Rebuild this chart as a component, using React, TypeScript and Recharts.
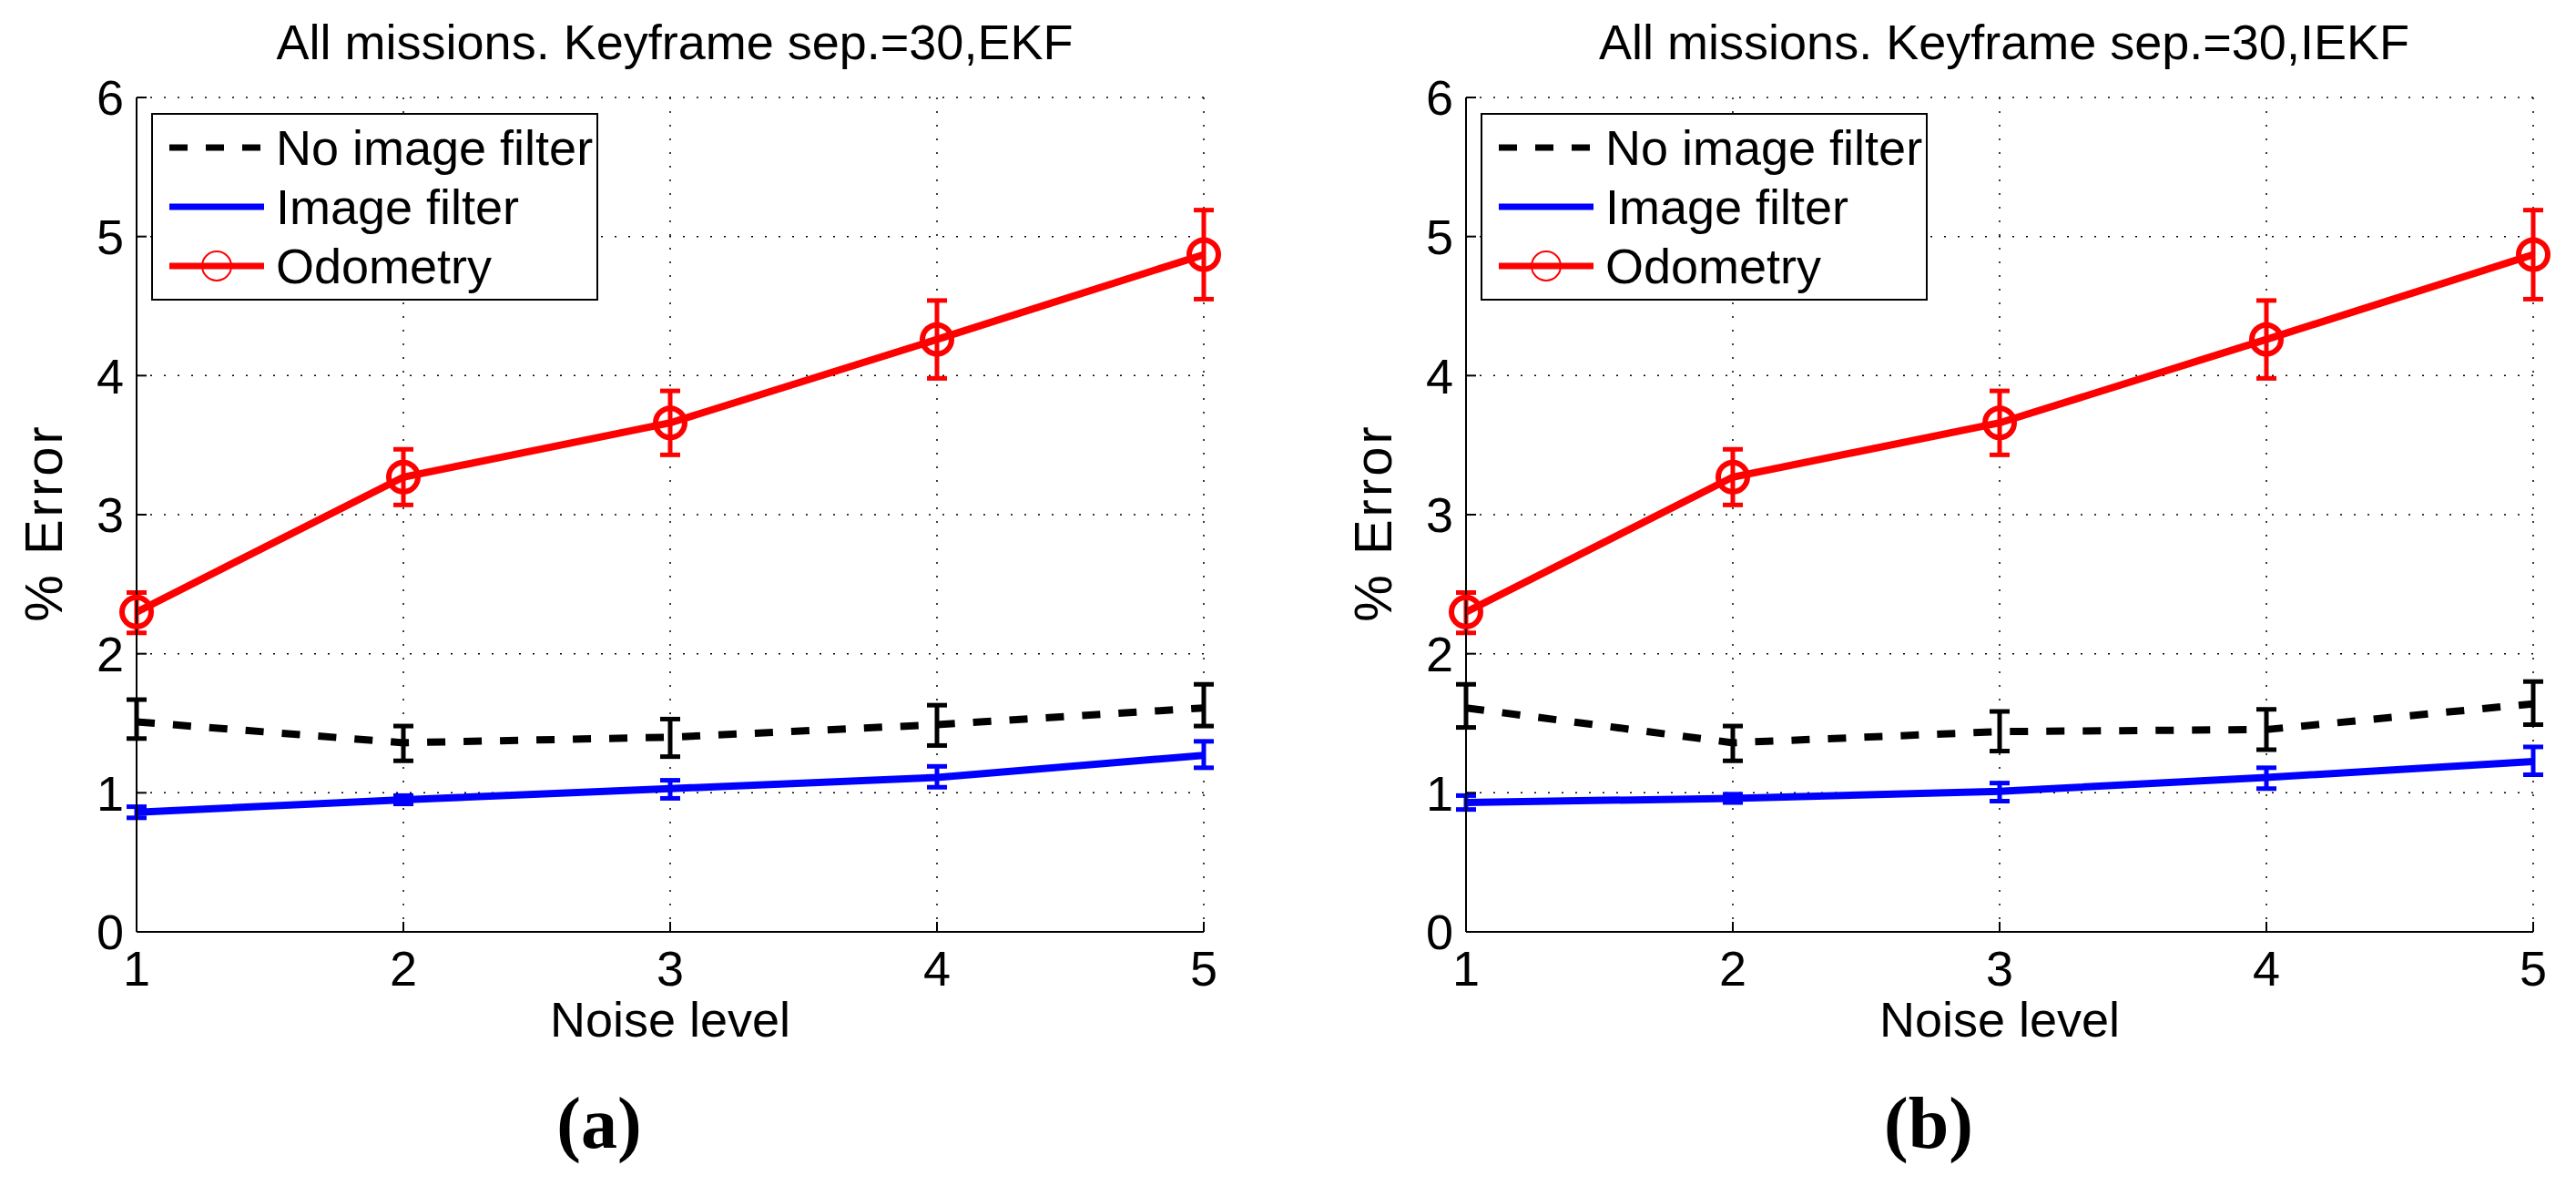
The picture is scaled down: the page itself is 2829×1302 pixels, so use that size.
import {
  LineChart,
  Line,
  XAxis,
  YAxis,
  CartesianGrid,
  ErrorBar,
  Legend,
} from "recharts";

const FONT = '"Liberation Sans", Arial, Helvetica, sans-serif';

const noiseLevels = [1, 2, 3, 4, 5];
const xTicks = [1, 2, 3, 4, 5];
const yTicks = [0, 1, 2, 3, 4, 5, 6];

// (a) EKF — means and error-bar ends
const ekfNoFilter = [1.51, 1.36, 1.4, 1.49, 1.61];
const ekfNoFilterLow = [1.39, 1.23, 1.26, 1.34, 1.48];
const ekfNoFilterHigh = [1.67, 1.48, 1.53, 1.63, 1.78];
const ekfImage = [0.86, 0.95, 1.03, 1.11, 1.27];
const ekfImageLow = [0.82, 0.92, 0.96, 1.04, 1.18];
const ekfImageHigh = [0.9, 0.98, 1.09, 1.19, 1.37];
const ekfOdometry = [2.3, 3.27, 3.66, 4.26, 4.87];
const ekfOdometryLow = [2.15, 3.07, 3.43, 3.98, 4.55];
const ekfOdometryHigh = [2.44, 3.47, 3.89, 4.54, 5.19];

// (b) IEKF
const iekfNoFilter = [1.61, 1.36, 1.44, 1.455, 1.64];
const iekfNoFilterLow = [1.47, 1.23, 1.3, 1.31, 1.49];
const iekfNoFilterHigh = [1.78, 1.48, 1.585, 1.6, 1.8];
const iekfImage = [0.93, 0.96, 1.01, 1.11, 1.225];
const iekfImageLow = [0.88, 0.93, 0.94, 1.03, 1.13];
const iekfImageHigh = [0.98, 0.99, 1.07, 1.18, 1.33];
const iekfOdometry = [2.3, 3.27, 3.66, 4.26, 4.87];
const iekfOdometryLow = [2.15, 3.07, 3.43, 3.98, 4.55];
const iekfOdometryHigh = [2.44, 3.47, 3.89, 4.54, 5.19];

const SERIES = [
  { key: "noFilter", name: "No image filter", color: "#000000", dash: "20 20", circle: false },
  { key: "image", name: "Image filter", color: "#0000ff", dash: undefined, circle: false },
  { key: "odometry", name: "Odometry", color: "#ff0000", dash: undefined, circle: true },
];

function buildRows(
  noF: number[], noFLo: number[], noFHi: number[],
  img: number[], imgLo: number[], imgHi: number[],
  odo: number[], odoLo: number[], odoHi: number[]
) {
  return noiseLevels.map((n, i) => ({
    noise: n,
    noFilter: noF[i],
    noFilterErr: [noF[i] - noFLo[i], noFHi[i] - noF[i]],
    image: img[i],
    imageErr: [img[i] - imgLo[i], imgHi[i] - img[i]],
    odometry: odo[i],
    odometryErr: [odo[i] - odoLo[i], odoHi[i] - odo[i]],
  }));
}

const ekfRows = buildRows(
  ekfNoFilter, ekfNoFilterLow, ekfNoFilterHigh,
  ekfImage, ekfImageLow, ekfImageHigh,
  ekfOdometry, ekfOdometryLow, ekfOdometryHigh
);
const iekfRows = buildRows(
  iekfNoFilter, iekfNoFilterLow, iekfNoFilterHigh,
  iekfImage, iekfImageLow, iekfImageHigh,
  iekfOdometry, iekfOdometryLow, iekfOdometryHigh
);

const seriesIndex = (key: string) => SERIES.findIndex((s) => s.key === key);

function LegendBox({ payload }: { payload?: any[] }) {
  // keep the plotting order (Recharts sorts legend items by name)
  const rows = [...(payload ?? [])].sort(
    (a, b) => seriesIndex(a.dataKey) - seriesIndex(b.dataKey)
  );
  return (
    <div
      style={{
        width: 491,
        height: 206,
        boxSizing: "border-box",
        border: "2px solid #000",
        background: "#fff",
        position: "relative",
      }}
    >
      <svg width={487} height={202} style={{ position: "absolute", left: 0, top: 0 }}>
        {rows.map((entry, i) => {
          const s = SERIES.find((d) => d.key === entry.dataKey) ?? SERIES[i];
          const cy = 36 + i * 65;
          return (
            <g key={s.key}>
              <line
                x1={18}
                x2={122}
                y1={cy}
                y2={cy}
                stroke={s.color}
                strokeWidth={7}
                strokeDasharray={s.dash}
              />
              {s.circle && (
                <circle cx={70} cy={cy} r={16} fill="none" stroke={s.color} strokeWidth={2} />
              )}
              <text x={135} y={cy + 19} fontSize={54} fontFamily={FONT} fill="#000">
                {entry.value}
              </text>
            </g>
          );
        })}
      </svg>
    </div>
  );
}

function YTitle({ viewBox }: { viewBox?: any }) {
  if (!viewBox) return null;
  const x = viewBox.x - 22;
  const y = viewBox.y + viewBox.height / 2 + 9;
  return (
    <text
      x={x}
      y={y}
      transform={`rotate(-90 ${x} ${y})`}
      textAnchor="middle"
      fontSize={58}
      letterSpacing={3}
      fontFamily={FONT}
      fill="#000"
    >
      % Error
    </text>
  );
}

function Panel({
  left,
  title,
  tag,
  rows,
}: {
  left: number;
  title: string;
  tag: string;
  rows: any[];
}) {
  const tickStyle = { fontSize: 54, fill: "#000", fontFamily: FONT };
  return (
    <div style={{ position: "absolute", left, top: 0, width: 1415, height: 1302 }}>
      <div
        style={{
          position: "absolute",
          left: 741,
          top: 19,
          transform: "translateX(-50%)",
          whiteSpace: "nowrap",
          fontFamily: FONT,
          fontSize: 54,
          lineHeight: "54px",
          color: "#000",
        }}
      >
        {title}
      </div>

      <LineChart
        width={1415}
        height={1302}
        data={rows}
        margin={{ top: 107, right: 93, bottom: 219, left: 90 }}
        style={{ fontFamily: FONT }}
      >
        <CartesianGrid stroke="#000" strokeWidth={1.5} strokeDasharray="2 13" />

        <XAxis
          dataKey="noise"
          type="number"
          domain={[1, 5]}
          ticks={xTicks}
          allowDataOverflow
          height={60}
          tick={tickStyle}
          tickSize={-11}
          tickMargin={32}
          tickLine={{ stroke: "#000", strokeWidth: 2 }}
          axisLine={{ stroke: "#000", strokeWidth: 2 }}
          label={{
            value: "Noise level",
            position: "bottom",
            offset: 17,
            fill: "#000",
            fontSize: 54,
            fontFamily: FONT,
          }}
        />
        <XAxis
          xAxisId="top"
          orientation="top"
          dataKey="noise"
          type="number"
          domain={[1, 5]}
          ticks={xTicks}
          height={0}
          tick={false}
          tickSize={-11}
          tickLine={{ stroke: "#000", strokeWidth: 2 }}
          axisLine={{ stroke: "#000", strokeWidth: 2 }}
        />
        <YAxis
          type="number"
          domain={[0, 6]}
          ticks={yTicks}
          width={60}
          tick={tickStyle}
          tickSize={-11}
          tickMargin={25}
          tickLine={{ stroke: "#000", strokeWidth: 2 }}
          axisLine={{ stroke: "#000", strokeWidth: 2 }}
          label={<YTitle />}
        />
        <YAxis
          yAxisId="right"
          orientation="right"
          type="number"
          domain={[0, 6]}
          ticks={yTicks}
          width={0}
          tick={false}
          tickSize={-11}
          tickLine={{ stroke: "#000", strokeWidth: 2 }}
          axisLine={{ stroke: "#000", strokeWidth: 2 }}
        />

        <Legend
          layout="vertical"
          align="center"
          verticalAlign="middle"
          wrapperStyle={{ left: 166, top: 124, width: 491, height: 206 }}
          content={<LegendBox />}
        />

        {SERIES.map((s) => (
          <Line
            key={s.key}
            dataKey={s.key}
            name={s.name}
            type="linear"
            stroke={s.color}
            strokeWidth={8}
            strokeDasharray={s.dash}
            dot={
              s.circle
                ? { r: 16, stroke: s.color, strokeWidth: 6, fill: "none", clipDot: false }
                : false
            }
            activeDot={false}
            isAnimationActive={false}
          >
            <ErrorBar
              dataKey={`${s.key}Err`}
              stroke={s.color}
              strokeWidth={5}
              width={11}
              direction="y"
            />
          </Line>
        ))}
      </LineChart>

      <div
        style={{
          position: "absolute",
          left: 658,
          top: 1193,
          transform: "translateX(-50%)",
          whiteSpace: "nowrap",
          fontFamily: '"Liberation Serif", "Times New Roman", serif',
          fontWeight: "bold",
          fontSize: 80,
          lineHeight: "80px",
          color: "#000",
        }}
      >
        {tag}
      </div>
    </div>
  );
}

export default function App() {
  return (
    <div
      style={{
        position: "absolute",
        left: 0,
        top: 0,
        width: 2829,
        height: 1302,
        background: "#fff",
        overflow: "hidden",
      }}
    >
      <Panel left={0} title="All missions. Keyframe sep.=30,EKF" tag="(a)" rows={ekfRows} />
      <Panel left={1460} title="All missions. Keyframe sep.=30,IEKF" tag="(b)" rows={iekfRows} />
    </div>
  );
}
